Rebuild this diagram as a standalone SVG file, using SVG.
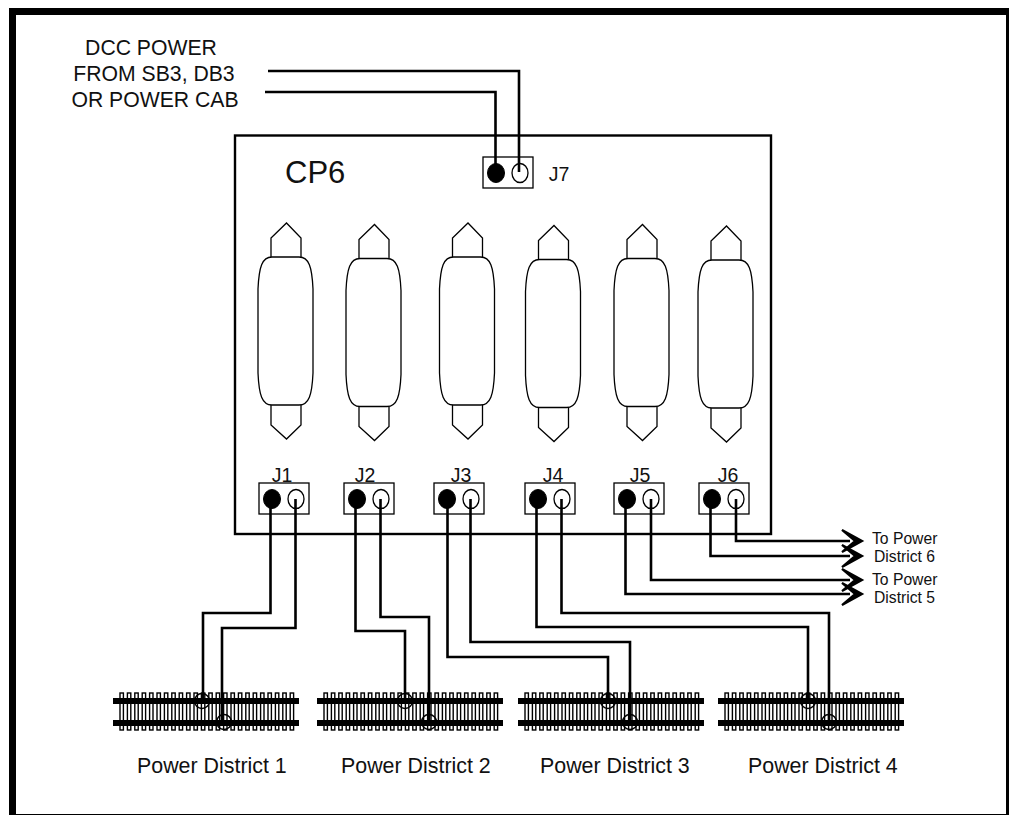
<svg xmlns="http://www.w3.org/2000/svg" width="1009" height="815" viewBox="0 0 1009 815">
<style>
text{font-family:"Liberation Sans",Arial,sans-serif;fill:#111}
.w{fill:none;stroke:#000;stroke-width:2.6}
.o{fill:#fff;stroke:#000;stroke-width:1.3}
.b{fill:#000;stroke:#000}
.l{font-size:19.5px;text-anchor:middle}
.t{font-size:15.7px}
.p{font-size:21.4px}
.h{font-size:21.2px;text-anchor:middle}
.tie{fill:#fff;stroke:#000;stroke-width:1.4}
.c{fill:none;stroke:#000;stroke-width:1.5}
</style>
<defs>
<g id="conn">
<path class="o" d="M13 0V-19L28.500 -34L43 -19V0"/>
<path class="o" d="M13 148V168L28.500 182L43 168V148"/>
<path class="o" d="M14 0H41C51 0 54 10 55 32V116C54 138 51 148 41 148H14C4 148 1 138 0 116V32C1 10 4 0 14 0Z"/>
</g>
<g id="hdr">
<rect class="o" x="0" y="0" width="50" height="31"/>
<ellipse class="b" cx="13" cy="16" rx="8.500" ry="9.500"/>
<ellipse class="o" cx="37" cy="16" rx="8" ry="9.500"/>
</g>
<g id="track">
<g>
<rect class="tie" x="7" y="0" width="3.400" height="37"/><rect class="tie" x="14.400" y="0" width="3.400" height="37"/><rect class="tie" x="21.800" y="0" width="3.400" height="37"/><rect class="tie" x="29.200" y="0" width="3.400" height="37"/><rect class="tie" x="36.600" y="0" width="3.400" height="37"/><rect class="tie" x="44" y="0" width="3.400" height="37"/><rect class="tie" x="51.400" y="0" width="3.400" height="37"/><rect class="tie" x="58.800" y="0" width="3.400" height="37"/><rect class="tie" x="66.200" y="0" width="3.400" height="37"/><rect class="tie" x="73.600" y="0" width="3.400" height="37"/><rect class="tie" x="81" y="0" width="3.400" height="37"/><rect class="tie" x="88.400" y="0" width="3.400" height="37"/><rect class="tie" x="95.800" y="0" width="3.400" height="37"/><rect class="tie" x="103.200" y="0" width="3.400" height="37"/><rect class="tie" x="110.600" y="0" width="3.400" height="37"/><rect class="tie" x="118" y="0" width="3.400" height="37"/><rect class="tie" x="125.400" y="0" width="3.400" height="37"/><rect class="tie" x="132.800" y="0" width="3.400" height="37"/><rect class="tie" x="140.200" y="0" width="3.400" height="37"/><rect class="tie" x="147.600" y="0" width="3.400" height="37"/><rect class="tie" x="155" y="0" width="3.400" height="37"/><rect class="tie" x="162.400" y="0" width="3.400" height="37"/><rect class="tie" x="169.800" y="0" width="3.400" height="37"/><rect class="tie" x="177.200" y="0" width="3.400" height="37"/>
</g>
<rect x="0" y="5" width="186" height="6" fill="#000"/>
<rect x="0" y="27" width="186" height="6" fill="#000"/>
</g>
<polygon id="ah" points="21,0 1,-11 14,0 1,11" fill="#000" stroke="#000" stroke-width="2.200" stroke-linejoin="miter"/>
</defs>
<rect width="1009" height="815" fill="#fff"/>
<g id="frame">
<rect x="9" y="8" width="7" height="807" fill="#000"/>
<rect x="9" y="8" width="1000" height="7" fill="#000"/>
<rect x="1006" y="8" width="3" height="807" fill="#000"/>
<rect x="9" y="814" width="1000" height="1" fill="#000"/>
</g>
<g id="source-label">
<text class="h" x="151" y="55">DCC POWER</text>
<text class="h" x="154" y="81">FROM SB3, DB3</text>
<text class="h" x="155" y="106.500">OR POWER CAB</text>
</g>
<g id="cp6">
<rect x="235" y="135.500" width="536" height="398.500" fill="#fff" stroke="#000" stroke-width="2.400"/>
<text x="285" y="183" font-size="31">CP6</text>
</g>
<g id="db1"><use href="#conn" x="258" y="257"/></g>
<g id="db2"><use href="#conn" x="346" y="258.500"/></g>
<g id="db3"><use href="#conn" x="439.500" y="257"/></g>
<g id="db4"><use href="#conn" x="525.500" y="259.500"/></g>
<g id="db5"><use href="#conn" x="614" y="258.500"/></g>
<g id="db6"><use href="#conn" x="698" y="260"/></g>
<g id="J7"><use href="#hdr" x="483" y="157"/><text class="l" x="559" y="181">J7</text></g>
<g id="J1"><use href="#hdr" x="259" y="483"/><text class="l" x="282" y="481.500">J1</text></g>
<g id="J2"><use href="#hdr" x="344" y="483"/><text class="l" x="365" y="481.500">J2</text></g>
<g id="J3"><use href="#hdr" x="434" y="483"/><text class="l" x="461" y="481.500">J3</text></g>
<g id="J4"><use href="#hdr" x="525" y="483"/><text class="l" x="553" y="481.500">J4</text></g>
<g id="J5"><use href="#hdr" x="614" y="483"/><text class="l" x="640" y="481.500">J5</text></g>
<g id="J6"><use href="#hdr" x="699" y="483"/><text class="l" x="728" y="481.500">J6</text></g>
<g id="district1"><use href="#track" x="113" y="693"/><circle class="c" cx="202" cy="701" r="7.500"/><circle class="c" cx="224" cy="722" r="7.500"/><text class="p" x="137" y="772.500">Power District 1</text></g>
<g id="district2"><use href="#track" x="317" y="693"/><circle class="c" cx="405" cy="701" r="7.500"/><circle class="c" cx="429" cy="722" r="7.500"/><text class="p" x="341" y="772.500">Power District 2</text></g>
<g id="district3"><use href="#track" x="518" y="693"/><circle class="c" cx="608" cy="701" r="7.500"/><circle class="c" cx="630" cy="722" r="7.500"/><text class="p" x="540" y="772.500">Power District 3</text></g>
<g id="district4"><use href="#track" x="718" y="693"/><circle class="c" cx="808" cy="701" r="7.500"/><circle class="c" cx="829" cy="722" r="7.500"/><text class="p" x="748" y="772.500">Power District 4</text></g>
<g id="district-labels">
<text class="t" x="872" y="544">To Power</text>
<text class="t" x="874" y="562">District 6</text>
<text class="t" x="872" y="585">To Power</text>
<text class="t" x="874" y="603">District 5</text>
</g>
<g id="connectors">
<path class="w" d="M268 71H519V172"/>
<path class="w" d="M265 92H495.500V172"/>
<path class="w" d="M270.500 499V613H203V701"/>
<path class="w" d="M295.500 499V628H222V722"/>
<path class="w" d="M355.500 499V631H405V701"/>
<path class="w" d="M380.500 499V617H429V722"/>
<path class="w" d="M447.500 499V657H608V701"/>
<path class="w" d="M470.500 499V642H630V722"/>
<path class="w" d="M536.500 499V627H808V701"/>
<path class="w" d="M561.500 499V613H829V722"/>
<path class="w" d="M625.500 499V594H850"/>
<path class="w" d="M651 499V580H850"/>
<path class="w" d="M710.500 499V556H850"/>
<path class="w" d="M736 499V541H850"/>
<use href="#ah" x="841" y="541"/>
<use href="#ah" x="841" y="556"/>
<use href="#ah" x="841" y="580"/>
<use href="#ah" x="841" y="594"/>
</g>
</svg>
